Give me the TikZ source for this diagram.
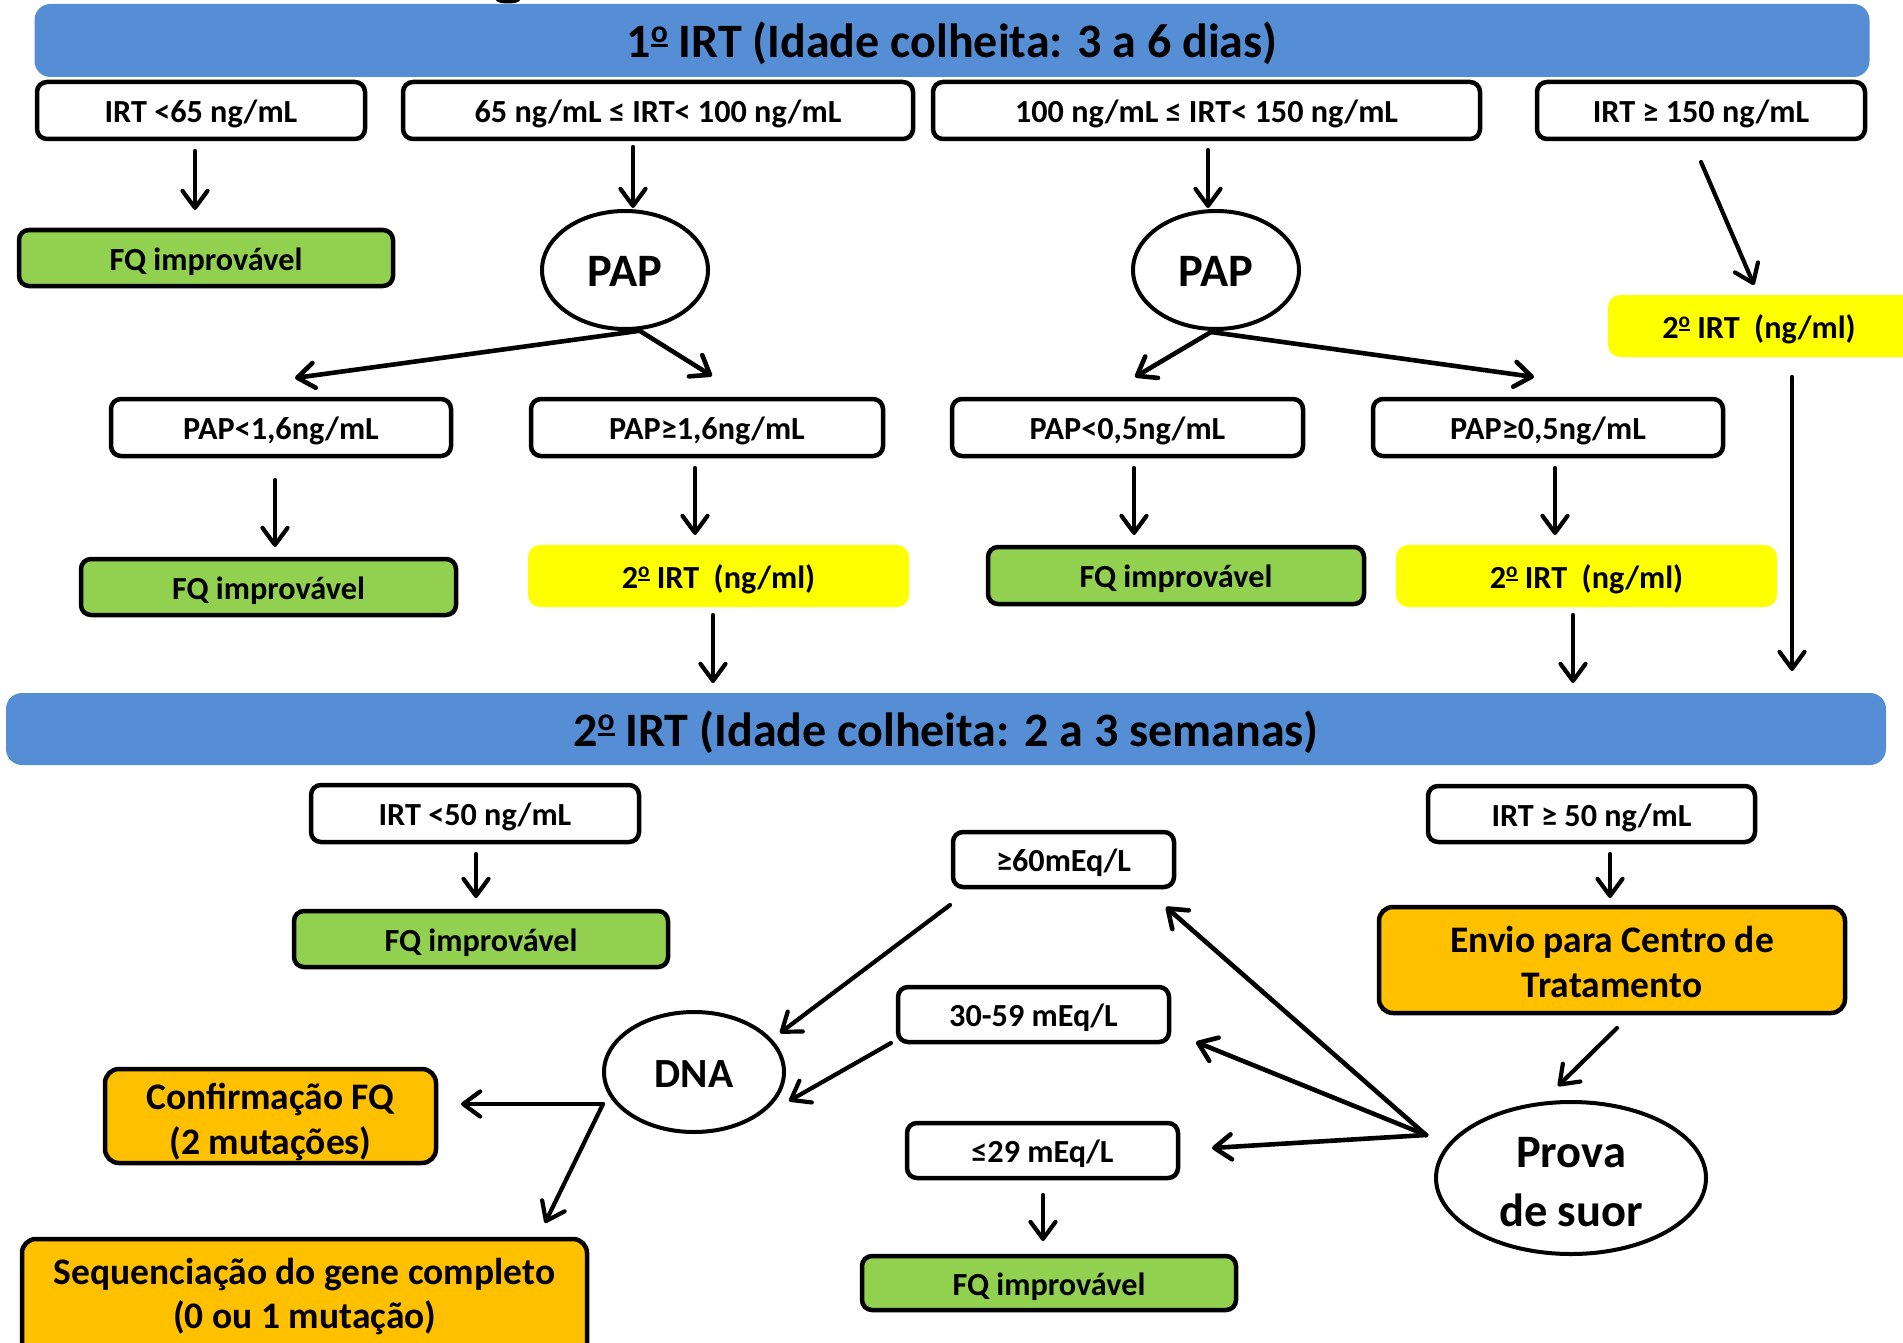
\documentclass[tikz,border=0pt]{standalone}
\usepackage{fontspec}
\usepackage{graphicx}
\setmainfont{Carlito}
\usetikzlibrary{arrows.meta,shapes.geometric}
\definecolor{bannerblue}{RGB}{85,142,213}
\definecolor{fqgreen}{RGB}{146,208,80}
\definecolor{ylw}{RGB}{255,255,0}
\definecolor{orng}{RGB}{255,192,0}
% underlined ordinal indicator as drawn by Calibri
\newcommand\myordo{\begingroup\setbox0\hbox{\scalebox{0.66}{o}}\raisebox{0.22em}{\vbox{\copy0\kern0.04em\hrule height 0.06em width \wd0}}\endgroup}
\begin{document}
\begin{tikzpicture}[x=1pt,y=-1pt,
  every node/.style={inner sep=0pt, align=center},
  banner/.style={fill=bannerblue, rounded corners=16pt, font=\bfseries\fontsize{48}{56}\selectfont, text height=34.3pt, text depth=0pt},
  wbox/.style={draw, line width=4.5pt, rounded corners=10pt, fill=white, font=\bfseries\fontsize{32.2}{38}\selectfont, text height=24.3pt, text depth=0pt},
  gbox/.style={wbox, fill=fqgreen},
  ybox/.style={fill=ylw, rounded corners=12pt, font=\bfseries\fontsize{32.2}{38}\selectfont, text height=24.3pt, text depth=0pt},
  obox/.style={draw, line width=4.5pt, rounded corners=14pt, fill=orng},
  otxt/.style={font=\bfseries\fontsize{37.5}{44.5}\selectfont},
  oval/.style={ellipse, draw, line width=4pt, fill=white},
  arr/.style={-{Straight Barb[length=17pt,width=25pt,round]}, line width=4.2pt, line cap=round},
  darr/.style={arr, line width=4.6pt},
]
\useasboundingbox (0,0) rectangle (1903,1343);
\fill[white] (0,0) rectangle (1903,1343);
% fragment of a cut-off title letter
\fill (508,0) ellipse (12 and 3.5);

% banners
\node[banner, minimum width=1835pt, minimum height=73pt] (ban1) at (952,40.5) {1\myordo{} IRT (Idade colheita: 3 a 6 dias)};
\node[banner, minimum width=1880pt, minimum height=72pt] (ban2) at (946,729) {2\myordo{} IRT (Idade colheita: 2 a 3 semanas)};

% row 1
\node[wbox, minimum width=328pt, minimum height=57pt] (b1) at (201,110.5) {IRT <65 ng/mL};
\node[wbox, minimum width=510pt, minimum height=57pt] (b2) at (658,110.5) {65 ng/mL ≤ IRT< 100 ng/mL};
\node[wbox, minimum width=547pt, minimum height=57pt] (b3) at (1206.5,110.5) {100 ng/mL ≤ IRT< 150 ng/mL};
\node[wbox, minimum width=328pt, minimum height=57pt] (b4) at (1701,110.5) {IRT ≥ 150 ng/mL};

% row 2
\node[gbox, minimum width=374pt, minimum height=56pt] (fq1) at (206,258) {FQ improvável};
\node[oval, minimum width=166pt, minimum height=118pt, font=\bfseries\fontsize{46.5}{55}\selectfont, text height=33.4pt, text depth=0pt] (pap1) at (625,270) {PAP};
\node[oval, minimum width=166pt, minimum height=118pt, font=\bfseries\fontsize{46.5}{55}\selectfont, text height=33.4pt, text depth=0pt] (pap2) at (1216,270) {PAP};
\node[ybox, minimum width=310pt, minimum height=62pt] (y1) at (1763,326) {\hspace*{-8pt}2\myordo{} IRT\ \ (ng/ml)};

% row 3
\node[wbox, minimum width=340pt, minimum height=57pt] (p1) at (281,427.5) {PAP<1,6ng/mL};
\node[wbox, minimum width=352pt, minimum height=57pt] (p2) at (707,427.5) {PAP≥1,6ng/mL};
\node[wbox, minimum width=351pt, minimum height=57pt] (p3) at (1127.5,427.5) {PAP<0,5ng/mL};
\node[wbox, minimum width=350pt, minimum height=57pt] (p4) at (1548,427.5) {PAP≥0,5ng/mL};

% row 4
\node[gbox, minimum width=375pt, minimum height=56pt] (fq2) at (268.5,587) {FQ improvável};
\node[ybox, minimum width=381pt, minimum height=62pt] (y2) at (718.5,576) {2\myordo{} IRT\ \ (ng/ml)};
\node[gbox, minimum width=376pt, minimum height=57pt] (fq3) at (1176,575.5) {FQ improvável};
\node[ybox, minimum width=381pt, minimum height=62pt] (y3) at (1586.5,576) {2\myordo{} IRT\ \ (ng/ml)};

% bottom part
\node[wbox, minimum width=328pt, minimum height=57pt] (l1) at (475,813.5) {IRT <50 ng/mL};
\node[gbox, minimum width=374pt, minimum height=56pt] (fq4) at (481,939) {FQ improvável};
\node[wbox, minimum width=327pt, minimum height=56pt] (r1) at (1591.5,814) {IRT ≥ 50 ng/mL};
\node[obox, minimum width=466pt, minimum height=106pt] (envio) at (1612,960) {};
\node[otxt] (enviotxt) at (1612,962) {Envio para Centro de\\Tratamento};
\node[oval, minimum width=270pt, minimum height=152pt] (prova) at (1571,1178) {};
\node[font=\bfseries\fontsize{46.5}{59}\selectfont] (provatxt) at (1571,1182) {Prova\\de suor};
\node[wbox, minimum width=221pt, minimum height=55pt] (s60) at (1063.5,859.5) {≥60mEq/L};
\node[wbox, minimum width=271pt, minimum height=55pt] (s30) at (1033.5,1014.5) {30-59 mEq/L};
\node[wbox, minimum width=271pt, minimum height=55pt] (s29) at (1042.5,1150.5) {≤29 mEq/L};
\node[gbox, minimum width=374pt, minimum height=54pt] (fq5) at (1049,1283) {FQ improvável};
\node[oval, minimum width=180pt, minimum height=120pt, font=\bfseries\fontsize{41.5}{50}\selectfont, text height=30.2pt, text depth=0pt] (dna) at (694,1072) {DNA};
\node[obox, minimum width=331pt, minimum height=94pt] (conf) at (270.5,1116) {};
\node[otxt] (conftxt) at (270.5,1122) {Confirmação FQ\\(2 mutações)};
\node[obox, minimum width=565pt, minimum height=129pt] (seq) at (304.5,1303.5) {};
\node[font=\bfseries\fontsize{37.5}{44}\selectfont] (seqtxt) at (304.5,1296.5) {Sequenciação do gene completo\\(0 ou 1 mutação)};

% connectors
\draw[arr] ([shift={(-6,40.5)}]b1.center) -- ([shift={(-11,-48)}]fq1.center);
\draw[arr] ([shift={(-25,36.5)}]b2.center) -- ([shift={(8,-62)}]pap1.center);
\draw[arr] ([shift={(1.5,39.5)}]b3.center) -- ([shift={(-8,-62)}]pap2.center);
\draw[arr] ([shift={(0,51.5)}]b4.center) -- ([shift={(-9,-41)}]y1.center);
\draw[darr] ([shift={(13,61)}]pap1.center) -- ([shift={(14,-49.5)}]p1.center);
\draw[darr] ([shift={(15,61)}]pap1.center) -- ([shift={(5,-51.5)}]p2.center);
\draw[darr] ([shift={(-5,62)}]pap2.center) -- ([shift={(7.5,-50.5)}]p3.center);
\draw[darr] ([shift={(-5,62)}]pap2.center) -- ([shift={(-14,-50.5)}]p4.center);
\draw[arr] ([shift={(-6,52.5)}]p1.center) -- ([shift={(6.5,-40)}]fq2.center);
\draw[arr] ([shift={(-12,40.5)}]p2.center) -- ([shift={(-23.5,-41)}]y2.center);
\draw[arr] ([shift={(6.5,40.5)}]p3.center) -- ([shift={(-42,-40.5)}]fq3.center);
\draw[arr] ([shift={(7,40.5)}]p4.center) -- ([shift={(-31.5,-41)}]y3.center);
\draw[arr] ([shift={(-5.5,39)}]y2.center) -- ([shift={(-233,-46)}]ban2.center);
\draw[arr] ([shift={(-13.5,39)}]y3.center) -- ([shift={(627,-46)}]ban2.center);
\draw[arr] ([shift={(29,51)}]y1.center) -- ([shift={(846,-58)}]ban2.center);
\draw[arr] ([shift={(1,40.5)}]l1.center) -- ([shift={(-5,-41)}]fq4.center);
\draw[arr] ([shift={(18.5,40)}]r1.center) -- ([shift={(-2,-62)}]envio.center);
\draw[arr] ([shift={(5,68)}]envio.center) -- ([shift={(-13,-92)}]prova.center);
\draw[darr] ([shift={(-145,-43)}]prova.center) -- ([shift={(102.5,47.5)}]s60.center);
\draw[darr] ([shift={(-145,-43)}]prova.center) -- ([shift={(162.5,27.5)}]s30.center);
\draw[darr] ([shift={(-145,-43)}]prova.center) -- ([shift={(169.5,-2.5)}]s29.center);
\draw[arr] ([shift={(0.5,44.5)}]s29.center) -- ([shift={(-6,-42)}]fq5.center);
\draw[arr] ([shift={(-113.5,45.5)}]s60.center) -- ([shift={(86,-39)}]dna.center);
\draw[arr] ([shift={(-142.5,28.5)}]s30.center) -- ([shift={(95,29)}]dna.center);
\draw[arr] ([shift={(-91,32)}]dna.center) -- ([shift={(190.5,-12)}]conf.center);
\draw[arr] ([shift={(-91,32)}]dna.center) -- ([shift={(240.5,-80.5)}]seq.center);
\end{tikzpicture}
\end{document}
